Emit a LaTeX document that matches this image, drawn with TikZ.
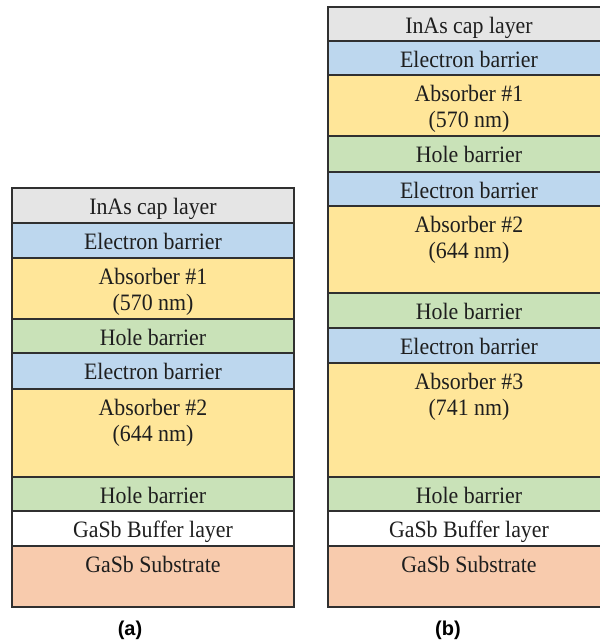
\documentclass[tikz,border=0pt]{standalone}
\usepackage{fontspec}
\setmainfont{Liberation Serif}
\newfontfamily\layerfont[FakeStretch=0.93]{Liberation Serif}
\newfontfamily\capfont{Liberation Sans}
\definecolor{capgray}{HTML}{E5E5E5}
\definecolor{ebarrier}{HTML}{BDD7EE}
\definecolor{absorb}{HTML}{FFE699}
\definecolor{hbarrier}{HTML}{C9E2B8}
\definecolor{subst}{HTML}{F8CBAD}
\definecolor{edge}{HTML}{303030}
\definecolor{ink}{HTML}{1E1E1E}
\tikzset{
  layerbox/.style={draw=edge, line width=1.3pt, rectangle, inner sep=0pt, outer sep=0pt, minimum width=282pt},
  layertext/.style={inner sep=0pt, text=ink, font=\layerfont\fontsize{23.5}{26}\selectfont},
  sublabel/.style={inner sep=0pt, text=black, font=\capfont\bfseries\fontsize{20}{24}\selectfont}
}
\newcommand{\mylayer}[6]{%
  \node[layerbox, fill=#5, minimum height={(#4-#3)*1pt}, anchor=north west] (#1) at (#2pt,{(643-#3)*1pt}) {};
  \node[layertext, anchor=base] (#1t) at ([yshift=-27pt]#1.north) {#6};}
\newcommand{\mysecond}[2]{%
  \node[layertext, anchor=base] (#1u) at ([yshift=-25.5pt]#1t.base) {#2};}
\begin{document}
\begin{tikzpicture}[x=1pt,y=1pt]
\fill[white] (0,0) rectangle (600,643);
\useasboundingbox (0,0) rectangle (600,643);
\clip (0,0) rectangle (600,643);
% ---- (a) ----
\mylayer{acap}{12}{188}{223}{capgray}{InAs cap layer}
\mylayer{aeb1}{12}{223}{258}{ebarrier}{Electron barrier}
\mylayer{aab1}{12}{258}{319}{absorb}{Absorber \#1}
\mysecond{aab1}{(570 nm)}
\mylayer{ahb1}{12}{319}{353}{hbarrier}{Hole barrier}
\mylayer{aeb2}{12}{353}{389}{ebarrier}{Electron barrier}
\mylayer{aab2}{12}{389}{477}{absorb}{Absorber \#2}
\mysecond{aab2}{(644 nm)}
\mylayer{ahb2}{12}{477}{511}{hbarrier}{Hole barrier}
\mylayer{abuf}{12}{511}{546}{white}{GaSb Buffer layer}
\mylayer{asub}{12}{546}{607}{subst}{GaSb Substrate}
\node[sublabel] (la) at (130,13) {(a)};
% ---- (b) ----
\mylayer{bcap}{328}{7}{41}{capgray}{InAs cap layer}
\mylayer{beb1}{328}{41}{75}{ebarrier}{Electron barrier}
\mylayer{bab1}{328}{75}{136}{absorb}{Absorber \#1}
\mysecond{bab1}{(570 nm)}
\mylayer{bhb1}{328}{136}{172}{hbarrier}{Hole barrier}
\mylayer{beb2}{328}{172}{206}{ebarrier}{Electron barrier}
\mylayer{bab2}{328}{206}{293}{absorb}{Absorber \#2}
\mysecond{bab2}{(644 nm)}
\mylayer{bhb2}{328}{293}{328}{hbarrier}{Hole barrier}
\mylayer{beb3}{328}{328}{363}{ebarrier}{Electron barrier}
\mylayer{bab3}{328}{363}{477}{absorb}{Absorber \#3}
\mysecond{bab3}{(741 nm)}
\mylayer{bhb3}{328}{477}{511}{hbarrier}{Hole barrier}
\mylayer{bbuf}{328}{511}{546}{white}{GaSb Buffer layer}
\mylayer{bsub}{328}{546}{607}{subst}{GaSb Substrate}
\node[sublabel] (lb) at (448,13) {(b)};
\end{tikzpicture}
\end{document}
